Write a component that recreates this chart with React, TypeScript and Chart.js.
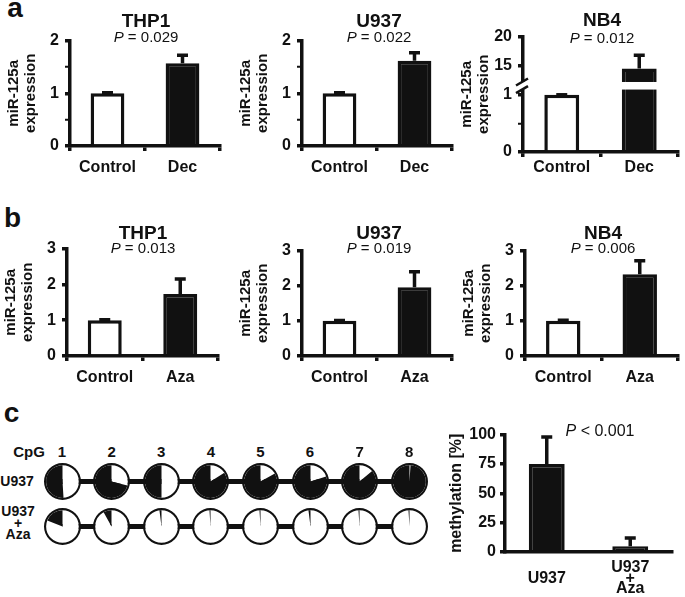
import React, { useEffect, useRef } from 'react';
import { Chart, registerables, LinearScale } from 'chart.js';

Chart.register(...registerables);

const INK = '#111111';
const FONT = '"Liberation Sans", Arial, Helvetica, sans-serif';

// ---------------- data ----------------
const decCategories = ['Control', 'Dec'];
const azaCategories = ['Control', 'Aza'];
const thp1DecValues = [1.0, 1.57];
const thp1DecErrors = [0.01, 0.15];
const u937DecValues = [1.0, 1.62];
const u937DecErrors = [0.01, 0.15];
const nb4DecValues = [1.0, 14.5];
const nb4DecErrors = [0.02, 2.3];
const thp1AzaValues = [1.0, 1.73];
const thp1AzaErrors = [0.01, 0.42];
const u937AzaValues = [1.0, 1.96];
const u937AzaErrors = [0.01, 0.44];
const nb4AzaValues = [1.0, 2.33];
const nb4AzaErrors = [0.02, 0.38];
const decTicks = [0, 0.5, 1, 1.5, 2];
const nb4DecTicks = [0, 0.5, 1, 15, 20];
const azaTicks = [0, 1, 2, 3];
const nb4AxisGap = [10.9, 12.2];

const cpgSites = ['1', '2', '3', '4', '5', '6', '7', '8'];
const u937Methylated = [0.51, 0.71, 0.5, 0.84, 0.83, 0.8, 0.86, 0.99];
const u937AzaMethylated = [0.19, 0.08, 0.02, 0.01, 0.01, 0.02, 0.01, 0.01];

const methCategories = [['U937'], ['U937', '+', 'Aza']];
const methValues = [75, 5];
const methErrors = [23, 7];
const methTicks = [0, 25, 50, 75, 100];

// ---------------- broken axis scale ----------------
const BREAK_FROM = 1;
const BREAK_TO = 10;
const UPPER_UNITS_PER_VALUE = 0.1017;

function toUnits(v: number) {
  if (v <= BREAK_FROM) return v;
  if (v <= BREAK_TO) return BREAK_FROM;
  return BREAK_FROM + (v - BREAK_TO) * UPPER_UNITS_PER_VALUE;
}
function fromUnits(u: number) {
  if (u <= BREAK_FROM) return u;
  return BREAK_TO + (u - BREAK_FROM) / UPPER_UNITS_PER_VALUE;
}

class BrokenLinearScale extends LinearScale {
  static id = 'brokenLinear';
  static defaults = {};
  getPixelForValue(value: any) {
    if (value === null || value === undefined || isNaN(value)) return NaN;
    return (this as any).getPixelForDecimal(toUnits(value) / toUnits((this as any).max));
  }
  getValueForPixel(pixel: number) {
    return fromUnits((this as any).getDecimalForPixel(pixel) * toUnits((this as any).max));
  }
}
Chart.register(BrokenLinearScale as any);

const LINE_W = 3.5;

// ---------------- plugins ----------------
const errorBarPlugin = {
  id: 'errorBars',
  afterDatasetsDraw(chart: any) {
    const ds = chart.data.datasets[0];
    const errs = ds.errors;
    if (!errs) return;
    const meta = chart.getDatasetMeta(0);
    const ys = chart.scales.y;
    const ctx = chart.ctx;
    ctx.save();
    ctx.strokeStyle = INK;
    ctx.lineWidth = LINE_W;
    meta.data.forEach((bar: any, i: number) => {
      const v = ds.data[i];
      const yTop = ys.getPixelForValue(v);
      const yEnd = ys.getPixelForValue(v + errs[i]);
      ctx.beginPath();
      ctx.moveTo(bar.x, yTop);
      ctx.lineTo(bar.x, yEnd);
      ctx.moveTo(bar.x - 5.5, yEnd);
      ctx.lineTo(bar.x + 5.5, yEnd);
      ctx.stroke();
    });
    ctx.restore();
  },
};

const axisBreakPlugin = {
  id: 'axisBreak',
  afterDraw(chart: any) {
    const gap = chart.data.datasets[0].axisGap;
    if (!gap) return;
    const ys = chart.scales.y;
    const { left, right } = chart.chartArea;
    const yHi = ys.getPixelForValue(gap[1]);
    const yLo = ys.getPixelForValue(gap[0]);
    const ctx = chart.ctx;
    ctx.save();
    ctx.fillStyle = '#ffffff';
    ctx.fillRect(left - 8, yHi, right - left + 8, yLo - yHi);
    ctx.strokeStyle = INK;
    ctx.lineWidth = 2.5;
    [yHi, yLo].forEach((yy) => {
      ctx.beginPath();
      ctx.moveTo(left - 7, yy + 3.5);
      ctx.lineTo(left + 5, yy - 3.5);
      ctx.stroke();
    });
    ctx.restore();
  },
};

// ---------------- panel specs ----------------
type Spec = {
  key: string;
  categories: any[];
  values: number[];
  errors: number[];
  fills: string[];
  ticks: number[];
  max: number;
  broken?: boolean;
  axisX: number;
  right: number;
  top: number;
  zero: number;
  yw: number;
  yTitle: string | string[];
  yTitleSize: number;
  yTitlePad: number;
  yTickPad: number;
  xTicks: boolean;
  xLabelPad: number;
  xLabelLH: number;
  crossAlign: string;
  barPct: number;
};

const EXP_TITLE = ['miR-125a', 'expression'];
const WHITE_BLACK = ['#ffffff', INK];

function expSpec(key: string, categories: string[], values: number[], errors: number[], ticks: number[], max: number,
  axisX: number, right: number, top: number, zero: number, labelY: number, broken = false): Spec {
  return {
    key, categories, values, errors, fills: WHITE_BLACK, ticks, max, broken,
    axisX, right, top, zero, yw: 70, yTitle: EXP_TITLE, yTitleSize: 15, yTitlePad: 6, yTickPad: 6,
    xTicks: true, xLabelPad: labelY - zero - 5 - 9.6, xLabelLH: 1.2, crossAlign: 'near', barPct: 0.45,
  };
}

const PANELS: Spec[] = [
  expSpec('a1', decCategories, thp1DecValues, thp1DecErrors, decTicks, 2, 70, 220, 37, 146, 168),
  expSpec('a2', decCategories, u937DecValues, u937DecErrors, decTicks, 2, 302, 452, 37, 146, 168),
  expSpec('a3', decCategories, nb4DecValues, nb4DecErrors, nb4DecTicks, 20, 523, 678, 33, 152, 168, true),
  expSpec('b1', azaCategories, thp1AzaValues, thp1AzaErrors, azaTicks, 3, 67, 218, 245, 356, 378),
  expSpec('b2', azaCategories, u937AzaValues, u937AzaErrors, azaTicks, 3, 302, 452, 247, 356, 378),
  expSpec('b3', azaCategories, nb4AzaValues, nb4AzaErrors, azaTicks, 3, 525, 678, 247, 356, 378),
  {
    key: 'c', categories: methCategories, values: methValues, errors: methErrors, fills: [INK, INK],
    ticks: methTicks, max: 100, axisX: 505, right: 672, top: 433, zero: 552, yw: 60,
    yTitle: 'methylation [%]', yTitleSize: 16, yTitlePad: 3, yTickPad: 4, xTicks: false,
    xLabelPad: 16, xLabelLH: 0.64, crossAlign: 'center', barPct: 0.43,
  },
];

const PT = 12;
const PR = 8;
const XH = 45;

function BarPanel({ spec }: { spec: Spec }) {
  const ref = useRef<HTMLCanvasElement | null>(null);
  const left = spec.axisX - spec.yw;
  const top = spec.top - PT;
  const w = spec.right - spec.axisX + spec.yw + PR;
  const h = spec.zero - top + XH;
  useEffect(() => {
    const bold = (size: number, lh = 1.2) => ({ family: FONT, size, weight: 'bold' as const, lineHeight: lh });
    const chart = new Chart(ref.current as HTMLCanvasElement, {
      type: 'bar',
      data: {
        labels: spec.categories,
        datasets: [
          {
            data: spec.values,
            errors: spec.errors,
            axisGap: spec.broken ? nb4AxisGap : null,
            backgroundColor: spec.fills,
            borderColor: INK,
            borderWidth: LINE_W,
            barPercentage: spec.barPct,
            categoryPercentage: 1,
          } as any,
        ],
      },
      options: {
        responsive: false,
        animation: false,
        events: [],
        layout: { padding: { left: 0, top: PT, right: PR, bottom: 0 } },
        plugins: { legend: { display: false }, tooltip: { enabled: false }, title: { display: false } },
        scales: {
          x: {
            type: 'category',
            offset: true,
            afterFit: (s: any) => { s.height = XH; },
            grid: {
              display: spec.xTicks, offset: true, drawOnChartArea: false, drawTicks: spec.xTicks,
              tickLength: 5, color: INK, lineWidth: LINE_W,
            },
            border: { display: true, color: INK, width: LINE_W },
            ticks: {
              font: bold(16, spec.xLabelLH), color: INK, padding: spec.xLabelPad,
              maxRotation: 0, minRotation: 0, autoSkip: false, crossAlign: spec.crossAlign as any,
            },
          },
          y: {
            type: (spec.broken ? 'brokenLinear' : 'linear') as any,
            min: 0,
            max: spec.max,
            afterBuildTicks: (s: any) => { s.ticks = spec.ticks.map((v) => ({ value: v })); },
            afterFit: (s: any) => { s.width = spec.yw; },
            ticks: {
              callback: (v: any) => (Number.isInteger(v) ? String(v) : ''),
              font: bold(16), color: INK, padding: spec.yTickPad, autoSkip: false,
            },
            grid: {
              drawOnChartArea: false, drawTicks: true, tickLength: 5, color: INK, lineWidth: LINE_W,
              tickWidth: (c: any) => (c.tick && Number.isInteger(c.tick.value) ? LINE_W : 2),
            },
            border: { display: true, color: INK, width: LINE_W },
            title: {
              display: true, text: spec.yTitle as any, font: bold(spec.yTitleSize, 1.1), color: INK,
              padding: { top: spec.yTitlePad, bottom: 0 },
            },
          },
        },
      } as any,
      plugins: [errorBarPlugin, axisBreakPlugin],
    });
    return () => chart.destroy();
  }, []);
  return (
    <canvas ref={ref} width={w} height={h}
      style={{ position: 'absolute', left, top, width: w, height: h }} />
  );
}

const PIE_D = 37;
const PIE_X0 = 62;
const PIE_DX = 49.6;
const ROW_U937_Y = 481;
const ROW_AZA_Y = 526;

function PieCell({ cx, cy, methylated }: { cx: number; cy: number; methylated: number }) {
  const ref = useRef<HTMLCanvasElement | null>(null);
  useEffect(() => {
    const chart = new Chart(ref.current as HTMLCanvasElement, {
      type: 'pie',
      data: {
        labels: ['unmethylated', 'methylated'],
        datasets: [
          { data: [1], backgroundColor: [INK], borderWidth: 0, weight: 0.13 } as any,
          { data: [1 - methylated, methylated], backgroundColor: ['#ffffff', INK], borderWidth: 0, weight: 1 } as any,
        ],
      },
      options: {
        responsive: false,
        animation: false,
        events: [],
        layout: { padding: 0 },
        plugins: { legend: { display: false }, tooltip: { enabled: false } },
      } as any,
    });
    return () => chart.destroy();
  }, [methylated]);
  return (
    <canvas ref={ref} width={PIE_D} height={PIE_D}
      style={{ position: 'absolute', left: cx - PIE_D / 2, top: cy - PIE_D / 2, width: PIE_D, height: PIE_D }} />
  );
}

function Txt({ x, y, size, bold = true, lh = 1, children }: any) {
  return (
    <div style={{
      position: 'absolute', left: x, top: y, transform: 'translate(-50%, -50%)',
      fontSize: size, fontWeight: bold ? 700 : 400, lineHeight: lh, whiteSpace: 'nowrap',
      textAlign: 'center', color: INK,
    }}>{children}</div>
  );
}

const TITLES = [
  { t: 'THP1', p: '= 0.029', x: 146, ty: 20, py: 36 },
  { t: 'U937', p: '= 0.022', x: 379, ty: 20, py: 36 },
  { t: 'NB4', p: '= 0.012', x: 602, ty: 19, py: 37 },
  { t: 'THP1', p: '= 0.013', x: 143, ty: 232, py: 247 },
  { t: 'U937', p: '= 0.019', x: 379, ty: 232, py: 247 },
  { t: 'NB4', p: '= 0.006', x: 603, ty: 232, py: 247 },
];

export default function App() {
  const pieXs = cpgSites.map((_, i) => PIE_X0 + PIE_DX * i);
  return (
    <div style={{
      position: 'absolute', left: 0, top: 0, width: 685, height: 597, background: '#ffffff',
      fontFamily: FONT, overflow: 'hidden',
    }}>
      <Txt x={15} y={8} size={28}>a</Txt>
      <Txt x={12.5} y={218} size={28}>b</Txt>
      <Txt x={11.5} y={413} size={28}>c</Txt>

      {PANELS.map((s) => <BarPanel key={s.key} spec={s} />)}

      {TITLES.map((t, i) => (
        <React.Fragment key={i}>
          <Txt x={t.x} y={t.ty} size={19}>{t.t}</Txt>
          <Txt x={t.x} y={t.py} size={15} bold={false}><i>P</i> {t.p}</Txt>
        </React.Fragment>
      ))}
      <Txt x={600} y={431} size={16} bold={false}><i>P</i> &lt; 0.001</Txt>

      {/* CpG methylation lollipop rows */}
      <Txt x={29} y={451} size={15}>CpG</Txt>
      {cpgSites.map((s, i) => <Txt key={'n' + s} x={pieXs[i]} y={451} size={15}>{s}</Txt>)}
      <Txt x={17} y={481} size={14}>U937</Txt>
      <Txt x={18} y={523} size={14} lh="11.5px">U937<br />+<br />Aza</Txt>

      <div style={{ position: 'absolute', left: pieXs[0], top: ROW_U937_Y - 2.5, width: pieXs[7] - pieXs[0], height: 5, background: INK }} />
      <div style={{ position: 'absolute', left: pieXs[0], top: ROW_AZA_Y - 2.5, width: pieXs[7] - pieXs[0], height: 5, background: INK }} />
      {u937Methylated.map((m, i) => <PieCell key={'u' + i} cx={pieXs[i]} cy={ROW_U937_Y} methylated={m} />)}
      {u937AzaMethylated.map((m, i) => <PieCell key={'z' + i} cx={pieXs[i]} cy={ROW_AZA_Y} methylated={m} />)}
    </div>
  );
}
